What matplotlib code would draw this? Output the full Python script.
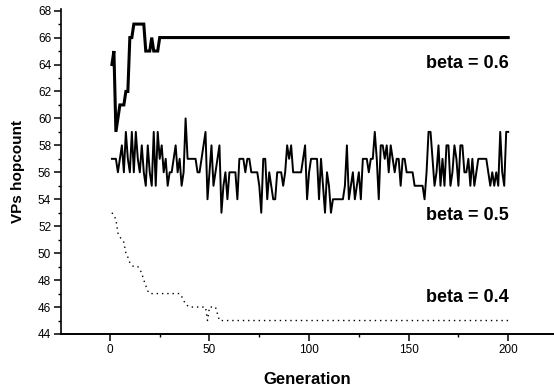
import matplotlib
matplotlib.use("Agg")
import matplotlib.pyplot as plt
from matplotlib.ticker import MultipleLocator
import numpy as np

plt.rcParams['font.family'] = ['Liberation Sans', 'DejaVu Sans']

generations = list(range(1, 201))

beta06 = ([64, 65, 59, 60, 61, 61, 61, 62, 62, 66,
           66, 67, 67, 67, 67, 67, 67, 65, 65, 65,
           66, 65, 65, 65] + [66] * 176)

beta05 = [57, 57, 57, 56, 57, 58, 56, 59, 57, 56,
          59, 56, 59, 57, 56, 58, 56, 55, 58, 56,
          55, 59, 55, 59, 57, 58, 56, 57, 55, 56,
          56, 57, 58, 56, 57, 55, 56, 60, 57, 57,
          57, 57, 57, 56, 56, 57, 58, 59, 54, 56,
          58, 55, 56, 57, 58, 53, 55, 56, 54, 56,
          56, 56, 56, 54, 57, 57, 57, 56, 57, 57,
          56, 56, 56, 56, 55, 53, 57, 57, 54, 56,
          55, 54, 54, 56, 56, 56, 55, 56, 58, 57,
          58, 56, 56, 56, 56, 56, 57, 58, 54, 56,
          57, 57, 57, 57, 54, 57, 55, 53, 56, 55,
          53, 54, 54, 54, 54, 54, 54, 55, 58, 54,
          55, 56, 54, 55, 56, 54, 57, 57, 57, 56,
          57, 57, 59, 57, 54, 58, 58, 57, 58, 56,
          58, 57, 56, 57, 57, 55, 57, 57, 56, 56,
          56, 56, 55, 55, 55, 55, 55, 54, 56, 59,
          59, 57, 55, 56, 58, 55, 57, 55, 58, 58,
          55, 56, 58, 57, 55, 58, 58, 56, 56, 57,
          55, 57, 55, 56, 57, 57, 57, 57, 57, 56,
          55, 56, 55, 56, 55, 59, 56, 55, 59, 59]

beta04 = ([53, 52.8, 52.5, 51.5, 51.2, 51, 50.8, 50, 49.7, 49.3,
           49.1, 49, 49, 49, 48.8, 48.5, 48, 47.6, 47.2]
          + [47] * 16
          + [46.8, 46.5, 46.2, 46.1]
          + [46] * 9
          + [45, 46, 46, 46, 46, 45.5]
          + [45] * 146)

labels = ["beta = 0.6", "beta = 0.5", "beta = 0.4"]
label_values = [64.1, 52.8, 46.7]

fig = plt.figure(figsize=(5.54, 3.91), dpi=100)
ax = fig.add_axes([0.110, 0.1458, 0.890, 0.8305])

ax.plot(generations, beta06, color='black', lw=2.2, solid_joinstyle='miter')
ax.plot(generations, beta05, color='black', lw=1.4)
ax.plot(generations, beta04, color='black', lw=1.0, linestyle=(0, (1, 2.8)))

ax.set_xlim(-24.6, 223)
ax.set_ylim(44, 68.1)

ax.spines['top'].set_visible(False)
ax.spines['right'].set_visible(False)
ax.spines['left'].set_linewidth(1.2)
ax.spines['bottom'].set_linewidth(1.4)

ax.xaxis.set_major_locator(MultipleLocator(50))
ax.xaxis.set_minor_locator(MultipleLocator(25))
ax.yaxis.set_major_locator(MultipleLocator(2))
ax.yaxis.set_minor_locator(MultipleLocator(1))
ax.tick_params(which='major', direction='out', length=5, width=1.1, labelsize=8.5, pad=2)
ax.tick_params(which='minor', direction='out', length=2.5, width=1.0)
ax.set_xticks([0, 50, 100, 150, 200])

ax.set_xlabel("Generation", fontsize=12, fontweight='bold', labelpad=12)
ax.set_ylabel("VPs hopcount", fontsize=11, fontweight='bold', labelpad=9)

for lab, yv in zip(labels, label_values):
    ax.text(200.5, yv, lab, fontsize=13, fontweight='bold', ha='right', va='center')

fig.savefig("out.png", dpi=100)
